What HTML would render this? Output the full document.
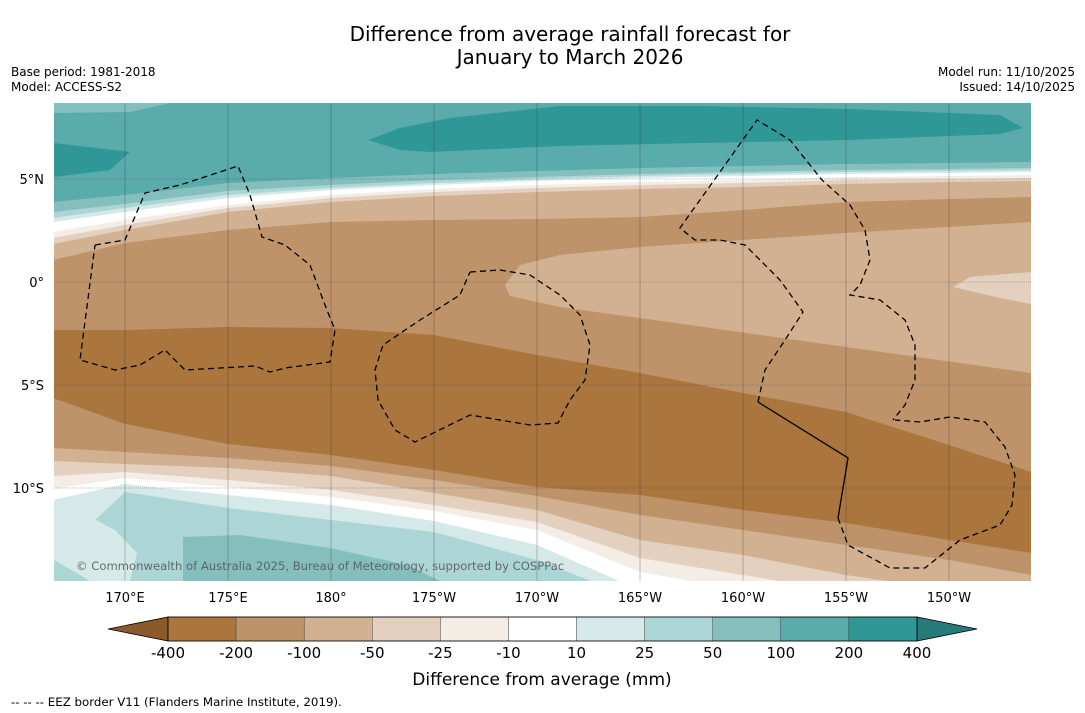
<!DOCTYPE html>
<html><head><meta charset="utf-8"><style>
html,body{margin:0;padding:0;background:#fff;}
svg{display:block;font-family:"DejaVu Sans","Liberation Sans",sans-serif;}
</style></head><body>
<svg id="chart" width="1085" height="713" viewBox="0 0 1085 713">
<text x="570" y="41" font-size="20" text-anchor="middle">Difference from average rainfall forecast for</text>
<text x="570" y="64" font-size="20" text-anchor="middle">January to March 2026</text>
<text x="11" y="76" font-size="12">Base period: 1981-2018</text>
<text x="11" y="91" font-size="12">Model: ACCESS-S2</text>
<text x="1075" y="76" font-size="12" text-anchor="end">Model run: 11/10/2025</text>
<text x="1075" y="91" font-size="12" text-anchor="end">Issued: 14/10/2025</text>
<defs><clipPath id="mapclip"><rect x="54" y="103" width="977" height="478"/></clipPath></defs>
<g id="map" clip-path="url(#mapclip)"></g>
<g id="axes"></g>
<text x="76" y="570" font-size="11.6" fill="#555" fill-opacity="0.85">© Commonwealth of Australia 2025, Bureau of Meteorology, supported by COSPPac</text>
<g id="cbar"></g>
<text x="542" y="685" font-size="17" text-anchor="middle">Difference from average (mm)</text>
<text x="11" y="706" font-size="11.8">--  --  -- EEZ border V11 (Flanders Marine Institute, 2019).</text>
</svg>
<script>
// ---- data ----
const levels = ['-400','-200','-100','-50','-25','-10','10','25','50','100','200','400'];
const colors = ['#ab753e','#bf936a','#d2b192','#e4d0be','#f3ede6','#ffffff','#d5e9e8','#acd6d5','#84bfbe','#5aabab','#2f9896'];
const lonTicks = [170,175,180,185,190,195,200,205,210];
const lonLabels = ['170°E','175°E','180°','175°W','170°W','165°W','160°W','155°W','150°W'];
const latTicks = [5,0,-5,-10];
const latLabels = ['5°N','0°','5°S','10°S'];
const lonSamples = [166.5,170,175,180,185,190,195,200,205,210,214];
// boundary y-values (pixel-read, converted to latitude)
const px = v => v.map(y => (282 - y) / 20.6);
const b100to50 = px([202,195,183,178,174,171,168,166,164,163,162]);
const b50to25 = px([212,204,191,185,180,177,174,172,170,169,168]);
const b25to10 = px([218,208,195,188,183,179,176,174,172,171,170]);
const b10toW = px([222,212,198,190,185,181,178,176,174,173,172]);
const bWtoM10 = px([232,220,205,195,189,185,182,180,177,176,175]);
const bM25 = px([238,225,208,198,192,188,185,183,180,179,178]);
const bM50 = px([244,230,212,202,196,192,189,187,184,182,181]);
const bM100 = px([260,243,230,222,220,219,217,210,202,199,197]);
const bM400top = px([330,330,327,328,335,355,373,393,412,445,472]);
const bM400bot = px([398,424,444,455,470,487,495,510,523,540,553]);
const bS100 = px([448,452,458,466,480,496,515,530,545,560,575]);
const bS50 = px([461,464,468,476,493,510,540,555,575,590,600]);
const bS25 = px([476,472,480,490,505,522,558,575,592,600,605]);
const bSW = px([489,478,487,497,511,530,572,590,600,605,610]);
const bS10 = px([500,484,495,505,521,545,590,600,610,615,620]);
const bS25t = px([560,492,508,520,532,560,600,610,620,625,630]);

// ---- axis functions ----
const X = lon => 125 + (lon - 170) * 20.6;
const Y = lat => 282 - lat * 20.6;
const NS='http://www.w3.org/2000/svg';
const map=document.getElementById('map'), axes=document.getElementById('axes'), cbar=document.getElementById('cbar');
function mk(tag,attrs,parent){const e=document.createElementNS(NS,tag);for(const k in attrs)e.setAttribute(k,attrs[k]);parent.appendChild(e);return e;}
function below(b,color,name){
  let d='M'+lonSamples.map((l,i)=>X(l)+','+Y(b[i])).join(' L')+' L1040,600 L40,600 Z';
  const p=mk('path',{d:d,fill:color},map);
  
  
}
function poly(pts,color,name){
  const p=mk('polygon',{points:pts.map(q=>q.join(',')).join(' '),fill:color},map);
  
  
}
const bg=mk('rect',{x:54,y:103,width:977,height:478,fill:colors[9]},map);


poly([[54,103],[170,103],[130,112],[54,113]],colors[8],'band-50-100-top');
poly([[54,143],[130,152],[110,170],[54,177]],colors[10],'band-200-400-west');
poly([[368,140],[400,128],[450,118],[560,106],[700,106],[850,109],[1000,115],[1023,128],[1000,134],[850,140],[700,143],[560,146],[430,152],[400,150]],colors[10],'band-200-400-north');
below(b100to50,colors[8],'band-50-100');
below(b50to25,colors[7],'band-25-50');
below(b25to10,colors[6],'band-10-25');
below(b10toW,colors[5],'band-neutral');
below(bWtoM10,colors[4],'band-m25-m10');
below(bM25,colors[3],'band-m50-m25');
below(bM50,colors[2],'band-m100-m50');
below(bM100,colors[1],'band-m200-m100');
poly([[505,285],[520,265],[560,255],[640,247],[846,233],[1031,222],[1031,373],[846,347],[640,318],[560,307],[510,296]],colors[2],'band-m100-m50-east');
poly([[953,287],[970,277],[1031,272],[1031,304],[1000,298]],colors[3],'band-m50-m25-east');
below(bM400top,colors[0],'band-m400-m200');
below(bM400bot,colors[1],'band-m200-m100-south');
below(bS100,colors[2],'band-m100-m50-south');
below(bS50,colors[3],'band-m50-m25-south');
below(bS25,colors[4],'band-m25-m10-south');
below(bSW,colors[5],'band-neutral-south');
below(bS10,colors[6],'band-10-25-south');
below(bS25t,colors[7],'band-25-50-south');
poly([[54,520],[90,517],[115,530],[137,553],[130,581],[54,581]],colors[6],'band-10-25-southwest');
poly([[54,560],[80,575],[90,581],[54,581]],colors[7],'band-25-50-corner');
poly([[183,537],[240,535],[330,548],[407,565],[440,581],[183,581]],colors[8],'band-50-100-south');
lonTicks.forEach((l,i)=>{
  const g=mk('line',{x1:X(l),x2:X(l),y1:103,y2:581,stroke:'#333','stroke-width':0.5,'stroke-opacity':0.6},map);
  
  
  const t=mk('text',{x:X(l),y:602,'font-size':13,'text-anchor':'middle'},axes);
  t.textContent=lonLabels[i];
  
  
});
latTicks.forEach((l,i)=>{
  const g=mk('line',{x1:54,x2:1031,y1:Y(l),y2:Y(l),stroke:'#333','stroke-width':0.6,'stroke-opacity':0.6,'stroke-dasharray':'1,1'},map);
  
  
  const t=mk('text',{x:44,y:Y(l)+5,'font-size':13,'text-anchor':'end'},axes);
  t.textContent=latLabels[i];
  
  
});
const eez=[
 [[95,245],[125,240],[145,193],[180,185],[238,166],[250,195],[262,237],[285,245],[310,265],[325,305],[335,330],[330,362],[285,368],[270,372],[255,366],[185,370],[165,350],[140,365],[115,370],[80,360],[95,245]],
 [[470,272],[500,270],[530,275],[560,295],[580,315],[590,345],[585,380],[570,400],[558,423],[530,425],[470,415],[415,442],[395,430],[378,400],[375,370],[383,345],[420,320],[460,295],[470,272]],
 [[758,402],[765,370],[785,340],[803,312],[780,280],[745,245],[720,240],[695,240],[680,228],[757,120],[790,140],[822,180],[850,205],[865,230],[870,260],[860,285],[850,295],[880,300],[905,320],[915,345],[915,380],[905,405],[893,420]],
 [[838,518],[848,545],[890,568],[925,568],[960,540],[1000,525],[1012,505],[1015,475],[1005,447],[985,422],[950,417],[920,422],[895,420]]
];
eez.forEach(pts=>{
  const p=mk('polyline',{points:pts.map(q=>q.join(',')).join(' '),fill:'none',stroke:'#000','stroke-width':1.3,'stroke-dasharray':'6,4'},map);
  
  
});
const s=mk('polyline',{points:'758,402 848,458 838,518',fill:'none',stroke:'#000','stroke-width':1.3},map);


const cx0=168, cw=(917-168)/11, cy=617, ch=24;
const l=mk('polygon',{points:`108,${cy+ch/2} ${cx0},${cy} ${cx0},${cy+ch}`,fill:'#8b5a2b',stroke:'#000','stroke-width':0.8},cbar);


const r=mk('polygon',{points:`977,${cy+ch/2} 917,${cy} 917,${cy+ch}`,fill:'#287a78',stroke:'#000','stroke-width':0.8},cbar);


colors.forEach((c,i)=>{
  const e=mk('rect',{x:cx0+i*cw,y:cy,width:cw,height:ch,fill:c,stroke:'#333','stroke-width':0.4},cbar);
  
  
});
mk('rect',{x:cx0,y:cy,width:917-cx0,height:ch,fill:'none',stroke:'#000','stroke-width':0.8},cbar);
levels.forEach((t,i)=>{
  const e=mk('text',{x:cx0+i*cw,y:658,'font-size':15,'text-anchor':'middle'},cbar);
  e.textContent=t;
  
  
});
</script>
</body></html>
